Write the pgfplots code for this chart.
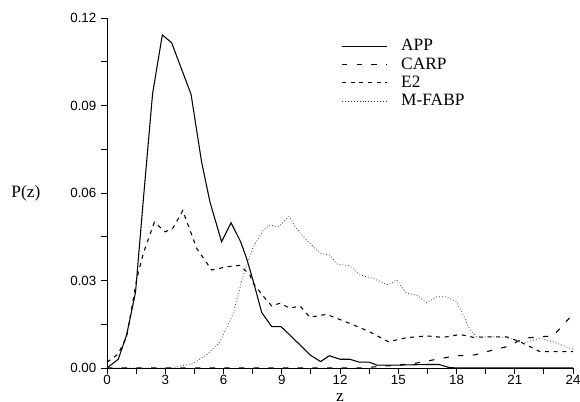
\documentclass[border=0pt]{standalone}
\usepackage{fontspec}
\setmainfont{Liberation Serif}
\setsansfont{Liberation Sans}
\usepackage{pgfplots}
\pgfplotsset{compat=1.18}
\begin{document}
\begin{tikzpicture}
\path[use as bounding box] (0,0) rectangle (435pt,301.5pt);
\begin{axis}[
  at={(80.25pt,25.5pt)}, anchor=south west,
  scale only axis, width=349.5pt, height=262.5pt,
  xmin=0, xmax=24, ymin=0, ymax=0.12,
  axis lines*=left,
  axis line style={line width=0.7pt},
  xtick={0,3,6,9,12,15,18,21,24},
  ytick={0,0.03,0.06,0.09,0.12},
  minor xtick={1.5,4.5,7.5,10.5,13.5,16.5,19.5,22.5},
  minor ytick={0.015,0.045,0.075,0.105},
  tick align=outside, major tick length=4.5pt, minor tick length=4.5pt,
  tick style={line width=0.6pt, black},
  scaled y ticks=false,
  /pgf/number format/assume math mode=true,
  yticklabel style={/pgf/number format/.cd, fixed, fixed zerofill, precision=2},
  ticklabel style={font=\sffamily},
  xticklabel style={inner sep=0.5pt},
  xlabel={z}, ylabel={P(z)},
  label style={font=\fontsize{13}{15}\selectfont},
  xlabel style={at={(axis description cs:0.5,0)}, anchor=south, inner sep=0pt, yshift=-25pt},
  ylabel style={rotate=-90, at={(axis description cs:-0.133,0.5)}, anchor=east},
  legend style={draw=none, fill=none, at={(axis description cs:0.494,0.955)}, anchor=north west,
    font=\fontsize{13}{15}\selectfont, row sep=-0.3pt},
  legend cell align=left,
  legend image code/.code={\draw[#1] (0pt,0pt) -- (34pt,0pt); \path (42pt,0pt);},
]
\addplot[black, line width=0.8pt] coordinates {
(0,0) (0.58,0.003) (1.01,0.0113) (1.47,0.026) (1.87,0.0576) (2.35,0.0942) (2.85,0.1142)
(3.33,0.1115) (4.33,0.0938) (4.87,0.0707) (5.3,0.057) (5.9,0.0433) (6.39,0.0498)
(6.88,0.0433) (7.19,0.0376) (7.54,0.0296) (7.97,0.019) (8.48,0.0142) (8.96,0.0142)
(9.42,0.0113) (9.94,0.0079) (10.45,0.0045) (11.0,0.0022) (11.45,0.0042) (12.0,0.003)
(12.5,0.003) (13.0,0.002) (13.5,0.002) (13.9,0.001) (15,0.001) (16.5,0.0012)
(17.1,0.0012) (17.6,0.0002) (18,0) (24,0)
};
\addlegendentry{APP}
\addplot[black, line width=0.8pt, dash pattern=on 4pt off 7pt] coordinates {
(0,0) (13,0) (14,0.0005) (15,0.001) (15.86,0.0016) (16.98,0.003) (18.0,0.0042)
(18.95,0.0045) (19.9,0.0062) (20.7,0.0075) (21.44,0.0102) (22.3,0.0107) (22.98,0.011)
(24,0.0185)
};
\addlegendentry{CARP}
\addplot[black, line width=0.8pt, dash pattern=on 3pt off 3.5pt] coordinates {
(0,0.002) (0.58,0.0048) (1.01,0.0107) (1.55,0.031) (1.87,0.0393) (2.44,0.05)
(3.0,0.0467) (3.4,0.048) (3.9,0.054) (4.62,0.041) (5.39,0.0336) (6.16,0.0347)
(6.85,0.0352) (7.36,0.0319) (7.54,0.029) (8.0,0.025) (8.48,0.0213) (8.91,0.0222)
(9.42,0.0205) (9.94,0.0213) (10.45,0.0174) (11.31,0.0184) (12.5,0.0153) (13.5,0.0125)
(14.49,0.009) (15.43,0.0104) (16.46,0.011) (17.32,0.0105) (18.18,0.0115) (18.87,0.0105)
(19.9,0.0107) (20.58,0.0107) (21.27,0.009) (22.3,0.0056) (24,0.0056)
};
\addlegendentry{E2}
\addplot[black!75, line width=0.6pt, dash pattern=on 0.6pt off 1.6pt] coordinates {
(0,0) (3.3,0) (3.67,0.0005) (4.44,0.0016) (5.13,0.0045) (5.82,0.009) (6.5,0.0187)
(7.02,0.0319) (7.54,0.0416) (8.05,0.0473) (8.39,0.049) (8.82,0.0484) (9.39,0.052)
(9.68,0.0484) (10.11,0.045) (10.62,0.0416) (10.97,0.0393) (11.48,0.0387) (11.83,0.0357)
(12.51,0.035) (13.03,0.0319) (13.71,0.0307) (14.49,0.0285) (14.92,0.0302) (15.43,0.0256)
(15.95,0.025) (16.46,0.0224) (16.98,0.0244) (17.49,0.0244) (18.0,0.0227) (18.35,0.0182)
(18.69,0.013) (19.04,0.0107) (19.9,0.0107) (20.58,0.0105) (21.27,0.009) (21.44,0.0085)
(22.3,0.0102) (22.98,0.009) (23.84,0.0068) (24,0.0065)
};
\addlegendentry{M-FABP}
\end{axis}
\end{tikzpicture}
\end{document}
